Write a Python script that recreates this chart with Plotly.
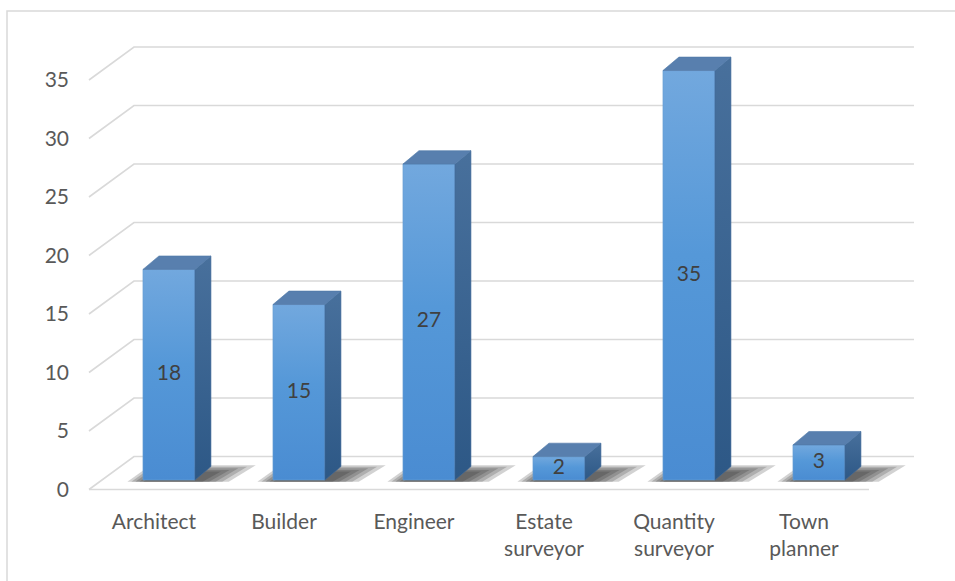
import plotly.graph_objects as go

# ---- data ----
categories = ["Architect", "Builder", "Engineer", "Estate<br>surveyor", "Quantity<br>surveyor", "Town<br>planner"]
values = [18, 15, 27, 2, 35, 3]
y_ticks = [0, 5, 10, 15, 20, 25, 30, 35]

# ---- 3D projection constants (axis units) ----
FLOOR_DX = 0.346   # depth of the floor, in category units
FLOOR_DY = 2.82    # depth of the floor, in value units
BAR_LEFT = 0.415   # bar front-face left offset inside its category band
BAR_W = 0.40       # bar front-face width
BAR_BASE = 0.81    # bar front face sits a bit back on the floor
BAR_DX = 0.123     # bar depth (x)
BAR_DY = 1.15      # bar depth (y)

GRID = "#d9d9d9"
FONT = "Lato"

fig = go.Figure()

# gridlines (front tip -> back wall -> right)
for v in y_ticks:
    fig.add_trace(go.Scatter(
        x=[0, FLOOR_DX, len(categories) + FLOOR_DX],
        y=[v, v + FLOOR_DY, v + FLOOR_DY],
        mode="lines", line=dict(color=GRID, width=1.6),
        hoverinfo="skip", showlegend=False))
# front floor edge
fig.add_trace(go.Scatter(
    x=[0, len(categories)], y=[0, 0], mode="lines",
    line=dict(color=GRID, width=1.6), hoverinfo="skip", showlegend=False))

# soft shadows on the floor (layered translucent parallelograms)
for i, v in enumerate(values):
    x0 = i + BAR_LEFT
    x1 = x0 + BAR_W
    for s in [1.0, 0.82, 0.64, 0.46, 0.28]:
        xl = x0 - 0.17 * s
        xr = x1 + 0.04 + 0.28 * s
        yb = BAR_BASE - 0.15
        yt = BAR_BASE + BAR_DY * (0.45 + 0.65 * s)
        sk = BAR_DX * (0.45 + 0.75 * s)
        fig.add_trace(go.Scatter(
            x=[xl + 0.05, xr - 0.06, xr + sk, xl + sk + 0.08, xl + 0.05],
            y=[yb, yb, yt, yt, yb],
            fill="toself", mode="lines", line=dict(width=0),
            fillcolor="rgba(30,30,30,0.2)",
            hoverinfo="skip", showlegend=False))

# bars: front, side and top faces
for i, v in enumerate(values):
    x0 = i + BAR_LEFT
    x1 = x0 + BAR_W
    yb = BAR_BASE
    yt = BAR_BASE + v
    # front face
    fig.add_trace(go.Scatter(
        x=[x0, x1, x1, x0, x0], y=[yb, yb, yt, yt, yb],
        fill="toself", mode="lines", line=dict(width=0.6, color="#6a9fd4"),
        fillgradient=dict(type="vertical", colorscale=[[0, "#4a8cd2"], [0.55, "#5598d8"], [1, "#72a8de"]]),
        hoverinfo="skip", showlegend=False))
    # side face
    fig.add_trace(go.Scatter(
        x=[x1, x1 + BAR_DX, x1 + BAR_DX, x1, x1],
        y=[yb, yb + BAR_DY, yt + BAR_DY, yt, yb],
        fill="toself", mode="lines", line=dict(width=0.6, color="#3e6898"),
        fillgradient=dict(type="vertical", colorscale=[[0, "#2d5886"], [1, "#48709c"]]),
        hoverinfo="skip", showlegend=False))
    # top face
    fig.add_trace(go.Scatter(
        x=[x0, x1, x1 + BAR_DX, x0 + BAR_DX, x0],
        y=[yt, yt, yt + BAR_DY, yt + BAR_DY, yt],
        fill="toself", mode="lines", line=dict(width=0.6, color="#4f79a8"),
        fillcolor="#587fae",
        hoverinfo="skip", showlegend=False))

# data labels
fig.add_trace(go.Scatter(
    x=[i + BAR_LEFT + BAR_W / 2 for i in range(len(values))],
    y=[BAR_BASE + v / 2 for v in values],
    text=[str(v) for v in values], mode="text",
    textfont=dict(family=FONT, size=21, color="#404040"),
    hoverinfo="skip", showlegend=False))

# plot area: l=80, r=20, t=20, b=81 -> 855 x 480 px
PX_PER_CAT = 130.0
PX_PER_VAL = 11.7
L, R, T, B = 80, 20, 20, 81
W, H = 955, 581
x_range = [(L - 89) / PX_PER_CAT, (W - R - 89) / PX_PER_CAT]
y_range = [(489.5 - (H - B)) / PX_PER_VAL, (489.5 - T) / PX_PER_VAL]

fig.update_layout(
    width=W, height=H,
    margin=dict(l=L, r=R, t=T, b=B),
    paper_bgcolor="white", plot_bgcolor="white",
    font=dict(family=FONT, size=21, color="#595959"),
    xaxis=dict(range=x_range, showgrid=False, zeroline=False, showline=False,
               tickvals=[i + 0.5 for i in range(len(categories))],
               ticktext=categories, ticks="", ticklabelstandoff=7,
               tickfont=dict(family=FONT, size=21, color="#595959")),
    yaxis=dict(range=y_range, showgrid=False, zeroline=False, showline=False,
               tickvals=y_ticks, ticks="", ticklabelstandoff=10,
               tickfont=dict(family=FONT, size=21, color="#595959")),
    shapes=[dict(type="rect", xref="paper", yref="paper",
                 x0=(7 - L) / (W - L - R), x1=(965 - L) / (W - L - R),
                 y0=(H - B - 600) / (H - T - B), y1=(H - B - 11) / (H - T - B),
                 line=dict(color=GRID, width=1.5), fillcolor="rgba(0,0,0,0)", layer="below")],
)

fig.write_html("out.html")
